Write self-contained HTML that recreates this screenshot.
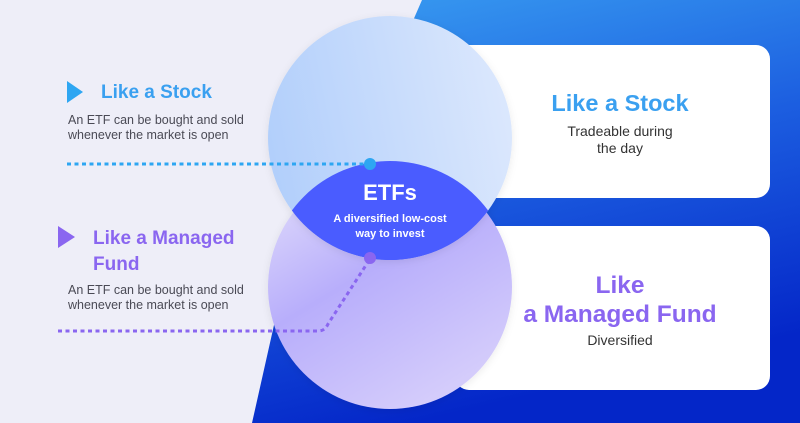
<!DOCTYPE html>
<html><head><meta charset="utf-8"><style>
html,body{margin:0;padding:0;width:800px;height:423px;overflow:hidden;background:#eeeef8;}
svg{display:block;font-family:"Liberation Sans",sans-serif;}
</style></head><body>
<svg width="800" height="423" viewBox="0 0 800 423" xmlns="http://www.w3.org/2000/svg">
<defs>
<linearGradient id="bg" x1="0" y1="0" x2="0.3" y2="1">
<stop offset="0" stop-color="#3aa0f2"/><stop offset="0.5" stop-color="#1c5ee0"/><stop offset="1" stop-color="#0426c8"/></linearGradient>
<linearGradient id="c1" x1="0" y1="0.5" x2="1" y2="0.3">
<stop offset="0" stop-color="#b2cffb"/><stop offset="1" stop-color="#dce8fd"/></linearGradient>
<linearGradient id="c2" x1="0" y1="0" x2="0.6" y2="1">
<stop offset="0" stop-color="#e6e2fb"/><stop offset="0.5" stop-color="#b8aefb"/><stop offset="1" stop-color="#d4ccfb"/></linearGradient>
<clipPath id="cl"><circle cx="390" cy="138" r="122"/></clipPath>
<filter id="sh" x="-10%" y="-10%" width="120%" height="120%"><feDropShadow dx="0" dy="2" stdDeviation="4" flood-color="#000" flood-opacity="0.08"/></filter>
</defs>
<polygon points="422,0 800,0 800,423 252,423 274,325 300,280" fill="url(#bg)"/>
<rect x="455" y="45" width="315" height="153" rx="14" fill="#fff"/>
<rect x="455" y="226" width="315" height="164" rx="14" fill="#fff"/>
<circle cx="390" cy="287" r="122" fill="url(#c2)" filter="url(#sh)"/>
<circle cx="390" cy="138" r="122" fill="url(#c1)" filter="url(#sh)"/>
<g clip-path="url(#cl)"><circle cx="390" cy="287" r="122" fill="#3f4ee6"/><circle cx="390" cy="283" r="122" fill="#4a5cff"/></g>
<text x="390" y="200" text-anchor="middle" font-size="22" font-weight="bold" fill="#fff">ETFs</text>
<text x="390" y="222" text-anchor="middle" font-size="11" font-weight="bold" fill="#fff">A diversified low-cost</text>
<text x="390" y="237" text-anchor="middle" font-size="11" font-weight="bold" fill="#fff">way to invest</text>
<line x1="67" y1="164" x2="368" y2="164" stroke="#2ea6f2" stroke-width="3" stroke-dasharray="4,3.5"/>
<circle cx="370" cy="164" r="6" fill="#2ea6f2"/>
<path d="M58,331 H318 Q325,331 328,324 L368,262" fill="none" stroke="#8a66f0" stroke-width="3" stroke-dasharray="4,3.5"/>
<circle cx="370" cy="258" r="6" fill="#8a66f0"/>
<polygon points="67,81 83,92 67,103" fill="#2ea6f2"/>
<text x="101" y="98" font-size="19" font-weight="bold" fill="#3aa0f0">Like a Stock</text>
<text x="68" y="124" font-size="12.5" fill="#4a4a55">An ETF can be bought and sold</text>
<text x="68" y="139" font-size="12.5" fill="#4a4a55">whenever the market is open</text>
<polygon points="58,226 75,237 58,248" fill="#8a66f0"/>
<text x="93" y="244" font-size="19" font-weight="bold" fill="#8a66f0">Like a Managed</text>
<text x="93" y="270" font-size="19" font-weight="bold" fill="#8a66f0">Fund</text>
<text x="68" y="294" font-size="12.5" fill="#4a4a55">An ETF can be bought and sold</text>
<text x="68" y="309" font-size="12.5" fill="#4a4a55">whenever the market is open</text>
<text x="620" y="111" text-anchor="middle" font-size="23.5" font-weight="bold" fill="#3aa0f0">Like a Stock</text>
<text x="620" y="136" text-anchor="middle" font-size="14" fill="#333">Tradeable during</text>
<text x="620" y="153" text-anchor="middle" font-size="14" fill="#333">the day</text>
<text x="620" y="293" text-anchor="middle" font-size="24.5" font-weight="bold" fill="#8a66f0">Like</text>
<text x="620" y="322" text-anchor="middle" font-size="24.5" font-weight="bold" fill="#8a66f0">a Managed Fund</text>
<text x="620" y="345" text-anchor="middle" font-size="14" fill="#333">Diversified</text>
</svg>
</body></html>
